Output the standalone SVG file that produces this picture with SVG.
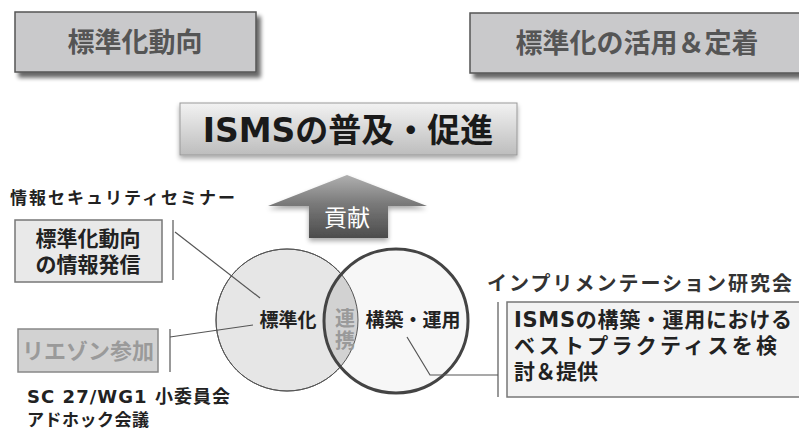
<svg xmlns="http://www.w3.org/2000/svg" width="799" height="432" viewBox="0 0 799 432">
<defs>
<filter id="sh" x="-10%" y="-20%" width="130%" height="160%">
<feGaussianBlur in="SourceAlpha" stdDeviation="2"/>
<feOffset dx="4" dy="5" result="b"/>
<feComponentTransfer><feFuncA type="linear" slope="0.6"/></feComponentTransfer>
<feMerge><feMergeNode/><feMergeNode in="SourceGraphic"/></feMerge>
</filter>
<filter id="sh2" x="-10%" y="-20%" width="130%" height="160%">
<feGaussianBlur in="SourceAlpha" stdDeviation="2.5"/>
<feOffset dx="0" dy="3"/>
<feComponentTransfer><feFuncA type="linear" slope="0.35"/></feComponentTransfer>
<feMerge><feMergeNode/><feMergeNode in="SourceGraphic"/></feMerge>
</filter>
<linearGradient id="g3" x1="0" y1="0" x2="0" y2="1">
<stop offset="0" stop-color="#f2f2f2"/>
<stop offset="1" stop-color="#bdbdbd"/>
</linearGradient>
<linearGradient id="ga" x1="0" y1="0" x2="0" y2="1">
<stop offset="0" stop-color="#b0b0b0"/>
<stop offset="0.45" stop-color="#7a7a7a"/>
<stop offset="1" stop-color="#4c4c4c"/>
</linearGradient>
<clipPath id="cl"><circle cx="287" cy="320" r="71"/></clipPath>
<style>
text{font-family:"DejaVu Sans","Noto Sans CJK JP",sans-serif;font-weight:bold}
.hdr{font-size:27px;fill:#555;text-anchor:middle}
.dk{fill:#222}
.ln{fill:none;stroke:#555;stroke-width:1.2}
</style>
</defs>

<g id="hdr1">
<rect x="15" y="12" width="241" height="60" fill="#c9c9cb" stroke="#555" stroke-width="1.5" filter="url(#sh)"/>
<text class="hdr" x="135" y="52">標準化動向</text>
</g>

<g id="hdr2">
<rect x="470" y="13" width="335" height="60" fill="#c9c9cb" stroke="#555" stroke-width="1.5" filter="url(#sh)"/>
<text class="hdr" x="637" y="53">標準化の活用＆定着</text>
</g>

<g id="isms">
<rect x="180" y="103" width="337" height="52" fill="url(#g3)" stroke="#999" stroke-width="1" filter="url(#sh2)"/>
<text x="348" y="142" text-anchor="middle" font-size="33" fill="#1a1a1a">ISMSの普及・促進</text>
</g>

<g id="kouken">
<polygon points="347,175 427,206 388,206 388,238 309,238 309,206 268,206" fill="url(#ga)" filter="url(#sh2)"/>
<text x="347" y="226" text-anchor="middle" font-size="23" fill="#fff" style="font-weight:normal">貢献</text>
</g>

<g id="circles">
<circle cx="287" cy="320" r="71" fill="#e6e6e6" stroke="#555" stroke-width="1"/>
<circle cx="396" cy="321" r="72" fill="#f7f7f7"/>
<circle cx="396" cy="321" r="72" fill="#d2d2d2" clip-path="url(#cl)"/>
<circle cx="287" cy="320" r="71" fill="none" stroke="#555" stroke-width="1"/>
<circle cx="396" cy="321" r="72" fill="none" stroke="#444" stroke-width="3"/>
<text x="288" y="327" text-anchor="middle" font-size="19" class="dk">標準化</text>
<text x="345" y="326" text-anchor="middle" font-size="20" fill="#9a9a9a">連</text>
<text x="345" y="348" text-anchor="middle" font-size="20" fill="#9a9a9a">携</text>
<text x="413" y="327" text-anchor="middle" font-size="19" class="dk">構築・運用</text>
</g>

<g id="seminar">
<text x="10" y="204" font-size="17" letter-spacing="2" class="dk">情報セキュリティセミナー</text>
<rect x="15" y="220" width="147" height="62" fill="#e9e9e9" stroke="#777" stroke-width="1.5"/>
<text x="88" y="246" text-anchor="middle" font-size="21" class="dk">標準化動向</text>
<text x="88" y="272" text-anchor="middle" font-size="21" class="dk">の情報発信</text>
</g>

<g id="liaison">
<rect x="18" y="329" width="140" height="43" fill="#d2d2d2" stroke="#888" stroke-width="1.5"/>
<text x="88" y="359" text-anchor="middle" font-size="22" fill="#9a9a9a">リエゾン参加</text>
<text x="27" y="403" font-size="18" textLength="203" lengthAdjust="spacing" class="dk">SC 27/WG1 小委員会</text>
<text x="27" y="426" font-size="17" letter-spacing="0.5" class="dk">アドホック会議</text>
</g>

<g id="impl">
<text x="487" y="291" font-size="20" letter-spacing="2" fill="#333">インプリメンテーション研究会</text>
<rect x="507" y="302" width="300" height="95" fill="#f3f3f3" stroke="#777" stroke-width="1.5"/>
<text x="514" y="327" font-size="21" textLength="278" lengthAdjust="spacing" class="dk">ISMSの構築・運用における</text>
<text x="514" y="353" font-size="21" textLength="263" lengthAdjust="spacing" class="dk">ベストプラクティスを検</text>
<text x="514" y="379" font-size="21" class="dk">討＆提供</text>
</g>

<g id="connectors">
<path class="ln" d="M173,220 V280"/>
<path class="ln" d="M175,232 L260,298"/>
<path class="ln" d="M170,329 V372"/>
<path class="ln" d="M170,337 L253,325"/>
<path class="ln" d="M498,302 V397"/>
<path class="ln" d="M407,337 L430,375 H498"/>
</g>
</svg>
